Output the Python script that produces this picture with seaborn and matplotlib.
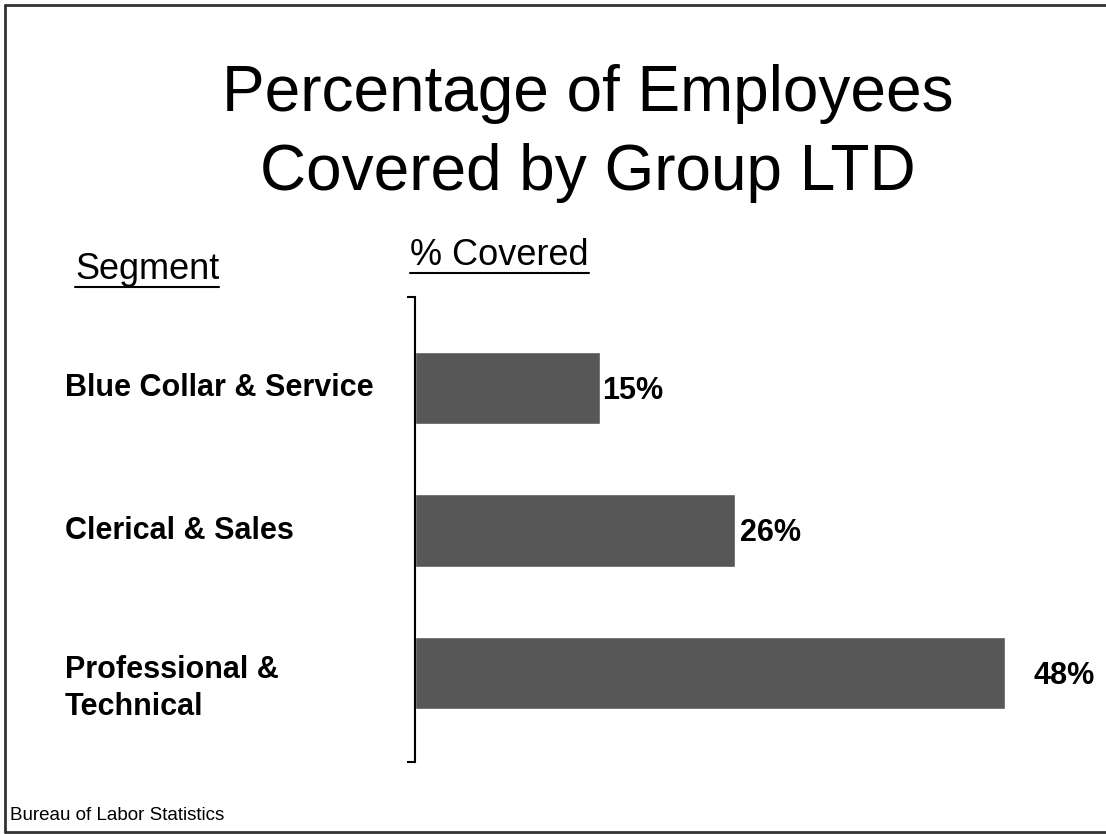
import matplotlib
matplotlib.use("Agg")
import matplotlib.pyplot as plt
import seaborn as sns
import pandas as pd
from matplotlib.lines import Line2D
from matplotlib.transforms import blended_transform_factory

# Data
segments = ["Blue Collar & Service", "Clerical & Sales", "Professional &\nTechnical"]
covered = [15, 26, 48]
value_labels = ["15%", "26%", "48%"]

sns.set_theme(style="white")
plt.rcParams["font.family"] = ["Liberation Sans", "DejaVu Sans"]

W, H = 1106, 834
fig = plt.figure(figsize=(W / 100, H / 100), dpi=100)
fig.patch.set_facecolor("white")

# Plot area: left spine acts as the bracket on the left of the bars
ax = fig.add_axes([415 / W, 1 - 762 / H, 615 / W, 465 / H])
df = pd.DataFrame({"segment": segments, "covered": covered})
sns.barplot(data=df, x="covered", y="segment", orient="h", color="#575757",
            saturation=1, width=0.51, ax=ax)

ax.set_xlim(0, 50)
y_top, y_bottom = -0.64, 2.625
ax.set_ylim(y_bottom, y_top)
for side in ("top", "right", "bottom"):
    ax.spines[side].set_visible(False)
ax.spines["left"].set_color("black")
ax.spines["left"].set_linewidth(1.5)
ax.set_xticks([])
ax.set_yticks([y_top, y_bottom])
ax.set_yticklabels(["", ""])
ax.tick_params(axis="y", left=True, length=6, width=1.5, color="black", direction="out")
ax.set_xlabel("")
ax.set_ylabel("")
ax.set_facecolor("white")

# Segment names on the left, aligned to the figure margin
trans = blended_transform_factory(fig.transFigure, ax.transData)
for i, name in enumerate(segments):
    dy = -11 if "\n" in name else 0
    ax.annotate(name, xy=(65 / W, i), xycoords=trans, xytext=(0, dy),
                textcoords="offset points", ha="left", va="center",
                fontsize=22, fontweight="bold", color="black",
                linespacing=1.3, annotation_clip=False)

# Value labels at the end of each bar
label_pads = [2, 4, 20]
for i, (v, txt) in enumerate(zip(covered, value_labels)):
    ax.annotate(txt, xy=(v, i), xytext=(label_pads[i], -2), textcoords="offset points",
                ha="left", va="center", fontsize=22, fontweight="bold", color="black",
                annotation_clip=False)

# Title (baseline of the second line)
fig.text(588 / W, 1 - 190 / H, "Percentage of Employees\nCovered by Group LTD",
         ha="center", va="baseline", fontsize=46, color="black", linespacing=1.4)

# Column headers (underlined)
h1 = fig.text(75 / W, 1 - 279 / H, "Segment", ha="left", va="baseline",
              fontsize=26, color="black")
h2 = fig.text(410 / W, 1 - 265 / H, "% Covered", ha="left", va="baseline",
              fontsize=26, color="black")

# Source note
fig.text(10 / W, 1 - 815 / H, "Bureau of Labor Statistics", ha="left", va="center",
         fontsize=13.5, color="black")

fig.canvas.draw()
renderer = fig.canvas.get_renderer()
for t in (h1, h2):
    bb = t.get_window_extent(renderer).transformed(fig.transFigure.inverted())
    fig.add_artist(Line2D([bb.x0, bb.x1], [bb.y0, bb.y0], transform=fig.transFigure,
                          color="black", linewidth=1.5))

# Outer frame (left, top and bottom edges)
frame_kw = dict(transform=fig.transFigure, color="#333333", linewidth=2)
x0, y0, y1 = 5 / W, 1 - 832 / H, 1 - 5 / H
fig.add_artist(Line2D([x0, x0], [y0, y1], **frame_kw))
fig.add_artist(Line2D([x0, 1.0], [y1, y1], **frame_kw))
fig.add_artist(Line2D([x0, 1.0], [y0, y0], **frame_kw))

fig.savefig("out.png", dpi=100, facecolor="white")
